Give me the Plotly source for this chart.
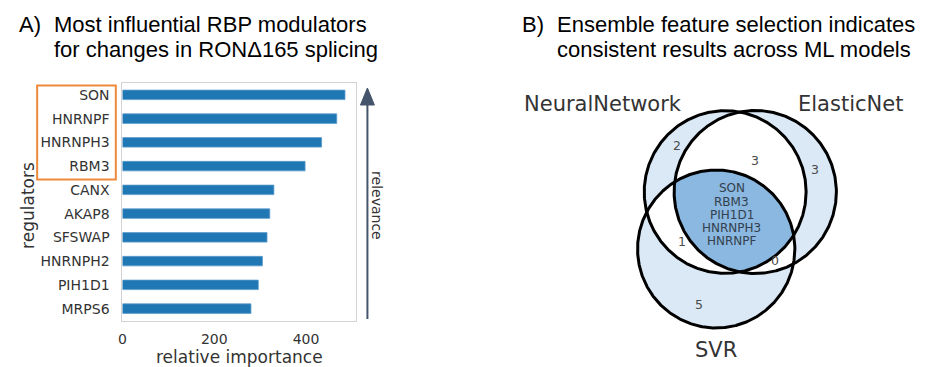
import numpy as np
import plotly.graph_objects as go

# ---------------- data ----------------
regulators = ["SON", "HNRNPF", "HNRNPH3", "RBM3", "CANX", "AKAP8",
              "SFSWAP", "HNRNPH2", "PIH1D1", "MRPS6"]
importance = [485, 467, 434, 398, 330, 321, 315, 305, 296, 280]
highlighted = ["SON", "HNRNPF", "HNRNPH3", "RBM3"]
x_ticks = [0, 200, 400]

set_names = ["NeuralNetwork", "ElasticNet", "SVR"]
# region counts: keys = membership (NN, EN, SVR)
region_counts = {"100": 2, "010": 3, "001": 5, "110": 3, "101": 1, "011": 0}
shared_all = ["SON", "RBM3", "PIH1D1", "HNRNPH3", "HNRNPF"]

title_a = ["Most influential RBP modulators", "for changes in RON\u0394165 splicing"]
title_b = ["Ensemble feature selection indicates", "consistent results across ML models"]

# ---------------- layout constants (pixel space) ----------------
W, H = 925, 367
circles = [(724.3, 192.0, 81.3), (754.5, 192.0, 81.5), (715.3, 249.0, 79.0)]
count_pos = {"100": (675.7, 145.5), "010": (815.0, 169.3), "001": (698.3, 304.0),
             "110": (754.0, 160.3), "101": (680.7, 241.7), "011": (774.0, 260.7)}
label_pos = [(601.7, 104.0), (850.0, 104.0), (715.0, 350.0)]
center_text = (731.0, 188.3, 13.2)

LIGHT = "#dbe9f6"
MID = "#8ab8e0"

fig = go.Figure()

# ---------------- bar chart ----------------
fig.add_trace(go.Bar(
    x=importance, y=regulators, orientation="h", width=0.4,
    marker=dict(color="#1f77b4", line=dict(color="#5a9bcc", width=0.8)),
    xaxis="x", yaxis="y", showlegend=False, hoverinfo="skip"))

# ---------------- venn diagram ----------------
theta = np.linspace(0, 2 * np.pi, 721)


def circle_pts(c):
    cx, cy, r = c
    return np.c_[cx + r * np.cos(theta), cy + r * np.sin(theta)]


def inside(p, c, tol=0.01):
    cx, cy, r = c
    return (p[:, 0] - cx) ** 2 + (p[:, 1] - cy) ** 2 <= (r + tol) ** 2


def intersection(idx):
    pts = []
    for i in idx:
        p = circle_pts(circles[i])
        mask = np.ones(len(p), bool)
        for j in idx:
            if j != i:
                mask &= inside(p, circles[j])
        pts.append(p[mask])
    pts = np.vstack(pts)
    m = pts.mean(axis=0)
    ang = np.arctan2(pts[:, 1] - m[1], pts[:, 0] - m[0])
    pts = pts[np.argsort(ang)]
    return np.vstack([pts, pts[:1]])


def fill_poly(pts, color):
    fig.add_trace(go.Scatter(x=pts[:, 0], y=pts[:, 1], mode="lines", fill="toself",
                             fillcolor=color, line=dict(width=0, color=color),
                             xaxis="x2", yaxis="y2", showlegend=False, hoverinfo="skip"))


for c in circles:
    fill_poly(circle_pts(c), LIGHT)
for pair in [(0, 1), (0, 2), (1, 2)]:
    fill_poly(intersection(pair), "#ffffff")
fill_poly(intersection((0, 1, 2)), MID)
for c in circles:
    p = circle_pts(c)
    fig.add_trace(go.Scatter(x=p[:, 0], y=p[:, 1], mode="lines",
                             line=dict(color="#000000", width=3),
                             xaxis="x2", yaxis="y2", showlegend=False, hoverinfo="skip"))

annotations = []
for key, val in region_counts.items():
    x, y = count_pos[key]
    annotations.append(dict(x=x, y=y, xref="x2", yref="y2", text=str(val), showarrow=False,
                            font=dict(family="DejaVu Sans", size=12.5, color="#4a4a4a")))
for name, (x, y) in zip(set_names, label_pos):
    annotations.append(dict(x=x, y=y, xref="x2", yref="y2", text=name, showarrow=False,
                            font=dict(family="DejaVu Sans", size=21, color="#333333")))
cx, cy0, dy = center_text
for k, name in enumerate(shared_all):
    annotations.append(dict(x=cx, y=cy0 + k * dy, xref="x2", yref="y2", text=name,
                            showarrow=False,
                            font=dict(family="DejaVu Sans", size=12, color="#34404d")))

# ---------------- titles & axis labels ----------------
TF = dict(family="Liberation Sans, Arial, sans-serif", size=22, color="#000000")
annotations += [
    dict(x=12.7, y=24, xref="x2", yref="y2", text="A)", showarrow=False,
         xanchor="left", font=TF),
    dict(x=48, y=24, xref="x2", yref="y2", text=title_a[0], showarrow=False,
         xanchor="left", font=TF),
    dict(x=48, y=49, xref="x2", yref="y2", text=title_a[1], showarrow=False,
         xanchor="left", font=TF),
    dict(x=518, y=24, xref="x2", yref="y2", text="B)", showarrow=False,
         xanchor="left", font=TF),
    dict(x=553, y=24, xref="x2", yref="y2", text=title_b[0], showarrow=False,
         xanchor="left", font=TF),
    dict(x=553, y=49, xref="x2", yref="y2", text=title_b[1], showarrow=False,
         xanchor="left", font=TF),
    dict(x=237, y=357, xref="x2", yref="y2", text="relative importance", showarrow=False,
         font=dict(family="DejaVu Sans", size=17, color="#333333")),
    dict(x=24, y=205, xref="x2", yref="y2", text="regulators", showarrow=False,
         textangle=-90, font=dict(family="DejaVu Sans", size=17, color="#333333")),
    dict(x=374.5, y=206, xref="x2", yref="y2", text="relevance", showarrow=False,
         textangle=90, font=dict(family="DejaVu Sans", size=14, color="#333333")),
]

n = len(regulators)
hi_idx = [regulators.index(h) for h in highlighted]
shapes = [
    # highlight box around top regulators' labels
    dict(type="rect", xref="x2", yref="y", x0=33.3, x1=112.3,
         y0=min(hi_idx) - 0.39, y1=max(hi_idx) + 0.56,
         line=dict(color="#ef8a3c", width=2), fillcolor="rgba(0,0,0,0)", layer="above"),
    # relevance arrow
    dict(type="line", xref="x2", yref="y2", x0=365, x1=365, y0=319, y1=104,
         line=dict(color="#44546a", width=2)),
    dict(type="path", xref="x2", yref="y2", path="M 358,105 L 372,105 L 365,88 Z",
         fillcolor="#44546a", line=dict(color="#44546a", width=1)),
]

fig.update_layout(
    width=W, height=H, margin=dict(l=0, r=0, t=0, b=0),
    paper_bgcolor="white", plot_bgcolor="rgba(0,0,0,0)",
    showlegend=False,
    xaxis=dict(domain=[119 / W, 354 / W], range=[0, 510], tickvals=x_ticks,
               showgrid=False, zeroline=False, showline=True, mirror=True,
               linecolor="#d3d3d3", linewidth=1.2, ticks="", ticklabelstandoff=6,
               tickfont=dict(family="DejaVu Sans", size=14, color="#333333"),
               anchor="y", fixedrange=True),
    yaxis=dict(domain=[(H - 320.5) / H, (H - 83) / H], categoryorder="array",
               categoryarray=regulators, range=[n - 0.5, -0.5],
               showgrid=False, zeroline=False, showline=True, mirror=True,
               linecolor="#d3d3d3", linewidth=1.2, ticks="", ticklabelstandoff=9,
               tickfont=dict(family="DejaVu Sans", size=14, color="#333333"),
               anchor="x", fixedrange=True),
    xaxis2=dict(domain=[0, 1], range=[0, W], visible=False, anchor="y2", fixedrange=True),
    yaxis2=dict(domain=[0, 1], range=[H, 0], visible=False, anchor="x2", fixedrange=True),
    annotations=annotations, shapes=shapes,
)

fig.write_html("out.html", config={"displayModeBar": False},
               post_script="document.body.style.margin='0';"
                           "document.body.style.overflow='hidden';")
